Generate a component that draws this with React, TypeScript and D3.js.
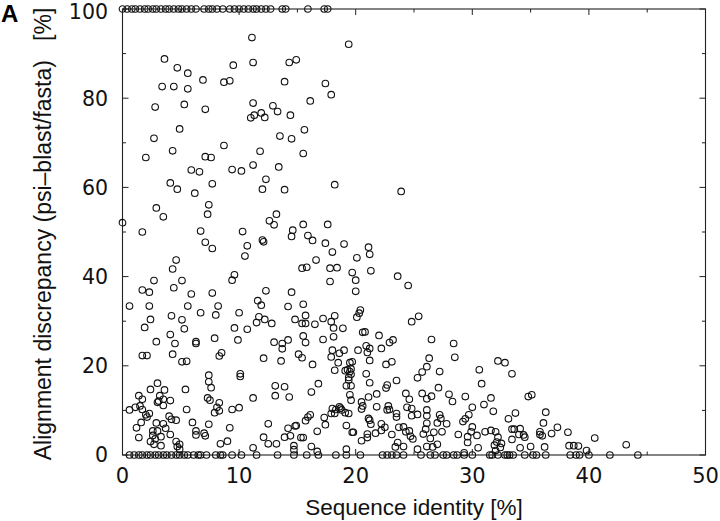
import React, { useEffect, useRef } from 'react';
import * as d3 from 'd3';

// identity values of the alignments with 100% discrepancy (top edge)
const topRowIdentity = [
  0, 0.4, 0.8, 1.1, 1.5, 1.9, 2.2, 2.6, 2.9, 3.3, 3.7, 4.0, 4.4, 4.8, 5.1, 5.5, 5.9, 6.3,
  7.0, 7.4, 7.7, 8.1, 8.6, 9.2, 9.6, 10.0, 10.4, 10.8, 11.2, 11.5, 11.9, 12.3, 12.7,
  13.7, 14.0, 15.9, 17.3, 17.6,
];

// identity values of the alignments with 0% discrepancy (bottom edge)
const bottomRowIdentity = [
  0.6, 1.0, 1.4, 1.7, 2.1, 2.4, 2.8, 3.1, 3.5, 3.8, 4.2, 4.6, 4.9, 5.3, 5.6, 6.1, 6.5, 6.7,
  7.2, 8.0, 8.4, 8.6, 9.4, 10.2, 11.5, 13.3, 14.7, 15.8, 16.8, 18.3, 19.2, 20.4, 22.3, 22.7,
  23.1, 23.5, 24.1, 25.6, 26.4, 26.8, 27.5, 27.8, 28.4, 28.7, 29.3, 30.0, 31.5, 31.7, 32.2,
  32.8, 33.0, 33.2, 33.5, 34.5, 35.2, 35.5, 36.3, 38.4, 38.9, 39.2, 40.0, 41.8, 44.2,
];

// [sequence identity, alignment discrepancy]
const scatterPoints = [
  [11.1, 93.6], [19.4, 92.1], [3.6, 88.8], [4.7, 86.8], [5.6, 85.6], [11.2, 88.0], [9.5, 87.4],
  [14.3, 88.0], [14.9, 88.6], [6.9, 84.1], [8.7, 83.6], [9.2, 83.9], [13.9, 83.7], [17.4, 83.3],
  [3.4, 82.6], [4.4, 82.6], [5.6, 82.1], [17.9, 80.8], [16.1, 79.4], [2.8, 78.0], [5.3, 78.6],
  [7.1, 77.5], [11.2, 78.9], [12.9, 78.3], [13.3, 77.0], [11.0, 75.6], [11.3, 76.2], [11.9, 76.7],
  [12.2, 75.7], [14.4, 76.2], [4.9, 73.1], [2.7, 71.0], [15.6, 72.9], [13.5, 71.5], [14.5, 70.9],
  [8.7, 69.4], [4.3, 68.2], [11.8, 68.1],
  [2.0, 66.7], [7.1, 66.9], [7.6, 66.7], [15.5, 67.6], [5.9, 63.9], [6.6, 63.5], [9.4, 64.0],
  [10.2, 63.7], [11.2, 65.0], [13.4, 64.6], [12.3, 61.8], [4.1, 61.0], [4.7, 59.6], [7.7, 60.8],
  [6.2, 58.7], [12.0, 59.6], [13.9, 59.5], [18.2, 60.6], [23.9, 59.1], [2.9, 55.4], [3.5, 53.4],
  [7.4, 56.1], [7.3, 54.0], [0.0, 52.1], [1.7, 50.0], [6.7, 50.2], [7.1, 47.7], [7.7, 46.3],
  [13.2, 54.0], [12.6, 52.5], [13.0, 51.6], [10.3, 50.1], [14.6, 50.4], [14.5, 49.0], [15.5, 51.7],
  [17.6, 51.7], [12.0, 48.2], [12.1, 47.8], [10.7, 46.9], [10.5, 44.6], [15.9, 49.2], [16.3, 48.1],
  [17.4, 47.5], [18.0, 45.5], [19.0, 47.3], [21.1, 46.6], [21.2, 45.0], [20.1, 44.2], [16.6, 43.7],
  [4.6, 43.7], [4.3, 41.7], [2.7, 39.1], [5.1, 39.1], [4.4, 37.5], [1.7, 37.0], [2.3, 36.5],
  [5.9, 36.1], [7.7, 36.3], [9.6, 40.4], [9.4, 39.2], [15.4, 41.9], [15.8, 42.1], [17.8, 41.9],
  [18.4, 42.0], [19.7, 40.9], [20.0, 39.2], [21.3, 41.3], [17.8, 38.9], [23.6, 40.1], [24.5, 38.0],
  [20.0, 36.7], [14.5, 36.5], [12.3, 36.8], [11.6, 34.6], [11.9, 33.6],
  [0.6, 33.4], [2.3, 33.4], [5.6, 33.4], [8.2, 33.4], [2.4, 30.4], [4.2, 31.2], [5.1, 30.3],
  [6.7, 31.9], [8.0, 31.4], [10.0, 31.9], [11.7, 31.0], [11.5, 29.7], [1.9, 28.6], [5.3, 28.3],
  [9.6, 28.5], [10.7, 28.2], [4.1, 27.0], [2.9, 25.4], [4.5, 25.0], [6.3, 25.4], [6.3, 25.0],
  [7.9, 26.2], [9.9, 25.8], [1.7, 22.3], [2.1, 22.3], [4.3, 22.6], [5.1, 20.9], [5.5, 21.0],
  [8.5, 22.9], [8.3, 22.2], [12.1, 21.7], [7.4, 17.9], [7.4, 16.4], [7.6, 15.1], [10.1, 18.2],
  [10.1, 17.6], [3.0, 16.1], [2.4, 14.7], [3.6, 14.6], [5.4, 14.7], [1.4, 13.3], [1.7, 12.5],
  [3.2, 13.3], [3.1, 12.1], [3.5, 12.5], [4.1, 12.2], [3.5, 11.1], [3.0, 11.8], [7.3, 12.8],
  [7.5, 12.3], [8.3, 11.7], [8.1, 10.7], [11.2, 12.8], [0.6, 10.1], [1.1, 10.7], [1.5, 11.0],
  [1.7, 10.2], [2.3, 9.3], [2.1, 8.5], [2.0, 9.0], [5.5, 10.2], [7.9, 9.5], [8.3, 9.9], [9.4, 10.2],
  [10.0, 10.6], [1.6, 7.3], [1.2, 6.1], [2.9, 7.2], [3.5, 7.0], [3.7, 6.0], [4.0, 8.7], [4.2, 8.0],
  [4.6, 7.8], [6.0, 7.3], [6.3, 5.4], [6.3, 4.5], [7.0, 4.9], [7.1, 4.3], [7.4, 6.9], [9.2, 6.1],
  [2.6, 5.4], [3.0, 5.4], [2.6, 4.4], [2.8, 3.6], [2.4, 3.0], [2.7, 2.4], [3.3, 4.1], [3.3, 2.1],
  [1.4, 3.9], [4.1, 4.6], [4.6, 3.0], [4.9, 2.4], [4.9, 1.3], [4.7, 1.9], [8.4, 2.5], [9.0, 3.1],
  [11.2, 1.6], [12.1, 4.0],
  [14.2, 33.3], [15.5, 33.8], [12.2, 30.4], [12.8, 29.5], [15.7, 31.3], [14.8, 30.4], [15.4, 29.5],
  [15.7, 29.5], [16.5, 29.3], [17.2, 30.6], [17.9, 29.9], [18.2, 31.2], [18.1, 28.5], [18.9, 28.4],
  [20.1, 30.9], [20.3, 31.8], [20.4, 32.5], [20.8, 27.6], [20.6, 27.5], [22.0, 26.8], [22.9, 25.2],
  [23.2, 25.8], [13.0, 25.3], [13.7, 25.0], [13.7, 23.8], [14.2, 25.8], [15.5, 26.7], [15.7, 25.2],
  [17.2, 25.9], [18.1, 26.5], [18.0, 23.5], [18.6, 22.8], [19.0, 23.5], [17.9, 22.0], [20.2, 23.5],
  [20.9, 24.5], [21.2, 23.9], [21.0, 23.0], [22.2, 23.9], [13.6, 21.1], [15.1, 22.6], [15.4, 21.8],
  [16.3, 20.3], [18.5, 20.7], [19.5, 20.7], [19.7, 20.9], [21.2, 21.2], [22.6, 20.3], [23.1, 20.9],
  [18.2, 19.0], [19.1, 18.9], [19.3, 19.1], [19.5, 18.7], [19.6, 19.3], [19.6, 18.1], [20.9, 18.2],
  [19.4, 17.4], [19.4, 16.8], [21.2, 16.2], [13.1, 15.5], [13.9, 15.3], [13.1, 13.3], [14.3, 13.0],
  [16.2, 14.1], [16.8, 16.0], [19.2, 15.5], [19.6, 15.5], [19.5, 13.5], [19.6, 12.3], [21.1, 13.0],
  [21.8, 13.7], [22.6, 15.0], [22.7, 15.7], [23.5, 16.7], [20.5, 11.9], [20.5, 10.3], [20.6, 11.0],
  [21.8, 10.8], [22.8, 11.0], [22.7, 10.1], [22.9, 10.2], [23.5, 9.3], [23.5, 8.5], [18.6, 10.8],
  [18.7, 10.5], [18.8, 10.1], [18.3, 10.2], [18.2, 9.3], [18.0, 10.4], [19.1, 9.5], [19.4, 9.3],
  [17.9, 9.3], [17.4, 6.8], [17.3, 8.4], [16.1, 9.0], [15.9, 8.5], [15.7, 7.7], [14.9, 6.6],
  [19.2, 6.6], [19.7, 5.1], [19.8, 5.1], [21.1, 8.2], [21.2, 7.8], [21.3, 6.9], [21.7, 4.9],
  [22.2, 7.0], [22.2, 5.5], [22.5, 6.2], [21.0, 4.7], [20.5, 3.2], [21.0, 3.9], [23.1, 4.6],
  [23.7, 6.2], [23.6, 2.8], [23.4, 1.8], [12.5, 7.0], [12.5, 2.5], [13.2, 2.5], [14.2, 6.0],
  [14.8, 6.5], [13.9, 4.0], [14.4, 4.3], [14.7, 2.1], [14.7, 1.2], [15.3, 3.9], [15.5, 3.9],
  [16.2, 1.9], [16.7, 5.3], [16.7, 0.8], [19.2, 1.3],
  [24.8, 29.9], [25.4, 31.1], [26.5, 25.9], [28.4, 25.0], [28.5, 21.9], [26.3, 21.7], [26.1, 19.8],
  [25.7, 18.6], [25.3, 17.3], [27.2, 18.7], [30.6, 19.1], [30.8, 16.0], [32.2, 21.1], [32.8, 20.7],
  [33.4, 18.2], [24.3, 13.8], [24.6, 12.5], [25.7, 13.8], [26.5, 13.2], [26.1, 12.6], [27.1, 15.1],
  [28.0, 13.6], [28.3, 12.0], [29.4, 13.1], [30.0, 10.7], [31.0, 11.3], [31.6, 12.8], [31.8, 9.8],
  [24.4, 10.7], [24.8, 10.4], [24.8, 8.8], [25.3, 9.1], [26.1, 10.1], [26.1, 8.8], [26.1, 7.1],
  [26.0, 5.8], [27.2, 9.0], [27.3, 8.2], [27.0, 7.2], [27.8, 7.0], [27.4, 5.2], [26.7, 5.1],
  [26.4, 3.7], [26.1, 1.9], [26.6, 1.8], [27.0, 2.4], [25.8, 4.7], [24.1, 6.3], [24.3, 5.2],
  [24.6, 5.4], [24.7, 4.2], [24.9, 3.6], [24.1, 1.9], [25.3, 1.3], [28.8, 4.6], [29.2, 7.5],
  [29.4, 8.1], [29.7, 9.0], [29.9, 5.2], [30.0, 6.3], [30.4, 4.4], [29.6, 4.1], [29.6, 2.8],
  [29.3, 0.5], [30.5, 1.6], [31.1, 5.2], [31.6, 5.5], [32.0, 5.2], [32.2, 4.0], [32.1, 2.9],
  [32.5, 2.6], [31.9, 2.2], [32.4, 1.7], [32.0, 1.0], [33.1, 8.1], [33.4, 5.8], [33.6, 5.8],
  [33.7, 9.4], [33.4, 3.5], [34.1, 5.9], [34.0, 4.6], [34.4, 4.5], [34.5, 4.0], [34.1, 1.6],
  [34.8, 13.1], [35.1, 13.5], [35.0, 1.9], [35.8, 5.2], [35.8, 4.6], [36.0, 4.3], [36.1, 7.2],
  [36.3, 9.6], [36.2, 1.8], [36.8, 4.8], [37.3, 6.2], [38.2, 5.1], [38.3, 2.1], [38.7, 2.1],
  [39.1, 2.0], [39.8, 1.0], [40.5, 3.8], [43.2, 2.3],
];

const xTicks = [0, 10, 20, 30, 40, 50];
const xMinorTicks = [5, 15, 25, 35, 45];
const yTicks = [0, 20, 40, 60, 80, 100];
const yMinorTicks = [10, 30, 50, 70, 90];

const App = () => {
  const myRef = useRef(null);

  useEffect(() => {
    const width = 720;
    const height = 521;
    const margin = { top: 9, right: 14.5, bottom: 66, left: 122.5 };
    const innerWidth = width - margin.left - margin.right;
    const innerHeight = height - margin.top - margin.bottom;

    const svgRef = d3.select(myRef.current);
    svgRef.selectAll('*').remove();

    const xScale = d3.scaleLinear().domain([0, 50]).range([0, innerWidth]);
    const yScale = d3.scaleLinear().domain([0, 100]).range([innerHeight, 0]);

    const svg = svgRef
      .attr('width', width)
      .attr('height', height)
      .append('g')
      .attr('transform', `translate(${margin.left}, ${margin.top})`);

    const frameColor = '#222';

    // frame
    svg.append('rect')
      .attr('x', 0)
      .attr('y', 0)
      .attr('width', innerWidth)
      .attr('height', innerHeight)
      .attr('fill', 'none')
      .attr('stroke', frameColor)
      .attr('stroke-width', 1.1);

    // inward ticks on all four sides
    const tickLen = (major) => (major ? 6 : 3.5);
    const xAll = [...xTicks.map(v => [v, true]), ...xMinorTicks.map(v => [v, false])];
    const yAll = [...yTicks.map(v => [v, true]), ...yMinorTicks.map(v => [v, false])];

    xAll.forEach(([v, major]) => {
      svg.append('line')
        .attr('x1', xScale(v)).attr('x2', xScale(v))
        .attr('y1', innerHeight).attr('y2', innerHeight - tickLen(major))
        .attr('stroke', frameColor).attr('stroke-width', 1);
      svg.append('line')
        .attr('x1', xScale(v)).attr('x2', xScale(v))
        .attr('y1', 0).attr('y2', tickLen(major))
        .attr('stroke', frameColor).attr('stroke-width', 1);
    });
    yAll.forEach(([v, major]) => {
      svg.append('line')
        .attr('x1', 0).attr('x2', tickLen(major))
        .attr('y1', yScale(v)).attr('y2', yScale(v))
        .attr('stroke', frameColor).attr('stroke-width', 1);
      svg.append('line')
        .attr('x1', innerWidth).attr('x2', innerWidth - tickLen(major))
        .attr('y1', yScale(v)).attr('y2', yScale(v))
        .attr('stroke', frameColor).attr('stroke-width', 1);
    });

    const tickFont = '"DejaVu Sans", sans-serif';

    // tick labels
    svg.append('g')
      .selectAll('text')
      .data(xTicks)
      .join('text')
      .attr('x', d => xScale(d))
      .attr('y', innerHeight + 28)
      .attr('text-anchor', 'middle')
      .style('font-family', tickFont)
      .style('font-size', '21px')
      .attr('fill', '#111')
      .text(d => d);

    // keep the top label inside the picture
    svg.append('g')
      .selectAll('text')
      .data(yTicks)
      .join('text')
      .attr('x', -14.5)
      .attr('y', d => Math.max(yScale(d) + 7.4, 10.3))
      .attr('text-anchor', 'end')
      .style('font-family', tickFont)
      .style('font-size', '20.5px')
      .attr('fill', '#111')
      .text(d => d);

    // axis titles
    const titleFont = '"Liberation Sans", Arial, Helvetica, sans-serif';
    svgRef.append('text')
      .attr('x', margin.left + innerWidth / 2)
      .attr('y', 515)
      .attr('text-anchor', 'middle')
      .style('font-family', titleFont)
      .style('font-size', '22.5px')
      .attr('fill', '#111')
      .text('Sequence identity [%]');

    svgRef.append('text')
      .attr('transform', 'translate(51, 234) rotate(-90)')
      .attr('text-anchor', 'middle')
      .style('font-family', titleFont)
      .style('font-size', '23px')
      .style('white-space', 'pre')
      .attr('fill', '#111')
      .text('Alignment discrepancy (psi\u2013blast/fasta)   [%]');

    // panel letter
    svgRef.append('text')
      .attr('x', 1)
      .attr('y', 22)
      .style('font-family', titleFont)
      .style('font-size', '24px')
      .style('font-weight', 'bold')
      .attr('fill', '#000')
      .text('A');

    // points
    const allPoints = [
      ...topRowIdentity.map(x => [x, 100]),
      ...bottomRowIdentity.map(x => [x, 0]),
      ...scatterPoints,
    ];

    svg.append('g')
      .selectAll('circle')
      .data(allPoints)
      .join('circle')
      .attr('cx', d => xScale(d[0]))
      .attr('cy', d => yScale(d[1]))
      .attr('r', 3.3)
      .attr('fill', 'none')
      .attr('stroke', '#111')
      .attr('stroke-width', 1.1);
  }, []);

  return (
    <div style={{ position: 'absolute', left: 0, top: 0 }}>
      <svg ref={myRef} style={{ display: 'block', background: '#fff' }}></svg>
    </div>
  );
};

export default App;
